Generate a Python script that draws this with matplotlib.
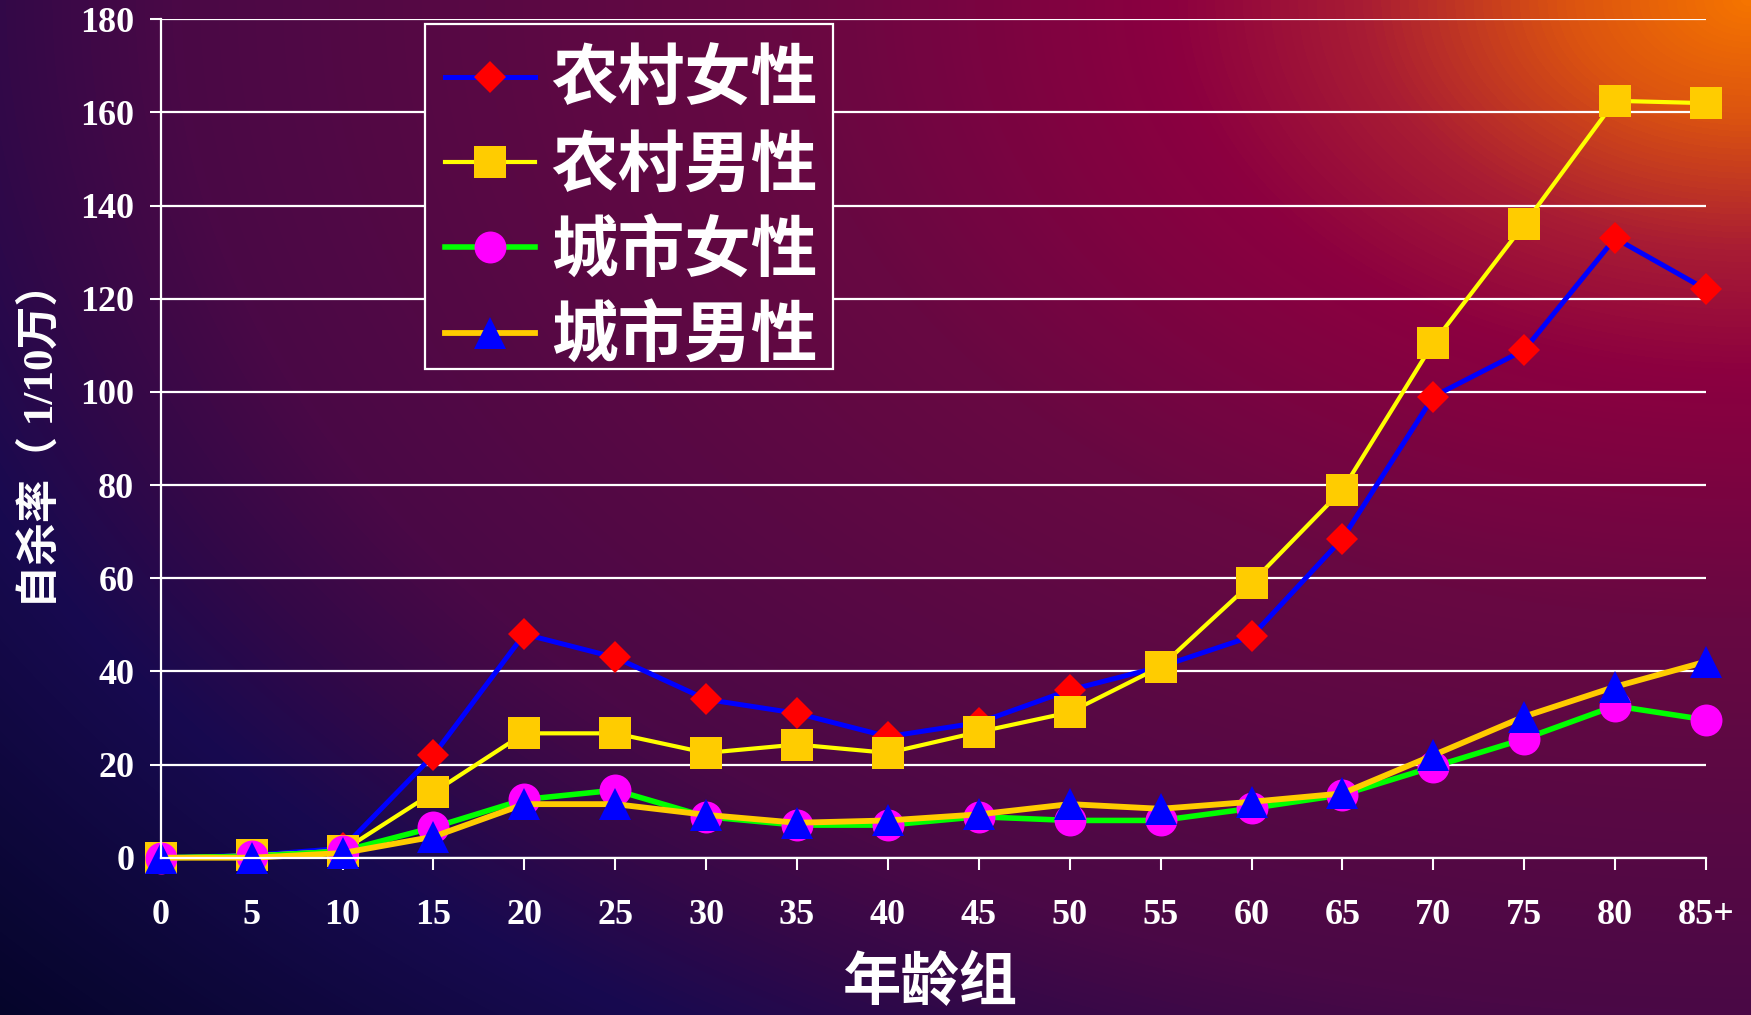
import numpy as np
import matplotlib
matplotlib.use('Agg')
import matplotlib.pyplot as plt
from matplotlib.colors import LinearSegmentedColormap
from matplotlib.font_manager import FontProperties
from matplotlib.patches import Rectangle

# data
ages = ['0', '5', '10', '15', '20', '25', '30', '35', '40', '45',
        '50', '55', '60', '65', '70', '75', '80', '85+']
rural_female = [0, 0.5, 2, 22, 48, 43, 34, 31, 26, 29, 36, 41, 47.5, 68.5, 99, 109, 133, 122]
rural_male = [0, 0.5, 1.5, 14, 26.7, 26.7, 22.5, 24.3, 22.5, 27, 31.2, 41, 59, 79, 110.5, 136, 162.5, 162]
urban_female = [0, 0.3, 1.4, 6.5, 12.5, 14.5, 8.8, 7, 7, 8.8, 8, 8, 10.6, 13.5, 19.5, 25.5, 32.6, 29.6]
urban_male = [0, 0, 1, 4.5, 11.5, 11.5, 9.2, 7.5, 8, 9.3, 11.5, 10.5, 12, 13.8, 22, 30.3, 36.7, 42.1]
labels = ['农村女性', '农村男性', '城市女性', '城市男性']

W, H, DPI = 1751, 1015, 100
fig = plt.figure(figsize=(W / DPI, H / DPI), dpi=DPI, facecolor='#300845')

# background: glow from the top-right corner
yy, xx = np.mgrid[0:H, 0:W]
u = xx / (W - 1)
v = yy / (H - 1)
d = np.sqrt((1 - u) ** 2 + (0.9 * v) ** 2)
dmax = 1.35
stops = [(0.0, '#f57400'), (0.1, '#dc5410'), (0.22, '#a81c34'), (0.33, '#8c0040'),
         (0.55, '#680842'), (0.9, '#4a0846'), (1.0, '#330848'), (1.1, '#180a50'),
         (1.35, '#05052a')]
cmap = LinearSegmentedColormap.from_list('bg', [(p / dmax, c) for p, c in stops])
bg = cmap(np.clip(d / dmax, 0, 1))[:, :, :3]
fig.figimage(bg, 0, 0, zorder=-10)

ax = fig.add_axes([160.7 / W, 1 - 857.7 / H, (1706 - 160.7) / W, (857.7 - 19.3) / H])
ax.set_facecolor('none')

x = np.arange(len(ages))
lines = []
lines += ax.plot(x, rural_female, color='#0000ff', lw=3.6, marker='D', ms=16.5,
                 mfc='#ff0000', mec='#ff0000', mew=0, clip_on=False)
lines += ax.plot(x, rural_male, color='#ffff00', lw=3.0, marker='s', ms=23.5,
                 mfc='#ffcc00', mec='#ffcc00', mew=0, clip_on=False)
lines += ax.plot(x, urban_female, color='#00ff00', lw=4.0, marker='o', ms=23,
                 mfc='#ff00ff', mec='#ff00ff', mew=0, clip_on=False)
lines += ax.plot(x, urban_male, color='#ffcc00', lw=4.2, marker='^', ms=23,
                 mfc='#0000ff', mec='#0000ff', mew=0, clip_on=False)

ax.set_xlim(0, len(ages) - 1)
ax.set_ylim(0, 180)
ax.set_xticks(x)
ax.set_xticklabels(ages)
ax.set_yticks(np.arange(0, 181, 20))

ax.set_axisbelow(True)
ax.yaxis.grid(True, color='white', lw=1.6)
for side in ['top', 'right']:
    ax.spines[side].set_visible(False)
for side in ['left', 'bottom']:
    ax.spines[side].set_color('white')
    ax.spines[side].set_linewidth(1.6)

tick_font = FontProperties(family='Liberation Serif', weight='bold', size=26)
ax.tick_params(axis='y', colors='white', length=8, width=1.5, pad=11)
ax.tick_params(axis='x', colors='white', length=8.5, width=1.5, pad=21)
for lab in ax.get_xticklabels() + ax.get_yticklabels():
    lab.set_fontproperties(tick_font)

fig.text(41.5 / W, 1 - 435 / H, '自杀率（ 1/10万）', rotation=90, ha='center', va='center',
         color='white', fontsize=31, weight='bold',
         family=['Liberation Serif', 'Noto Sans CJK SC'])
fig.text(930 / W, 1 - 983 / H, '年龄组', ha='center', va='center',
         color='white', fontsize=42, weight='bold', family=['Noto Sans CJK SC'])

# legend box drawn by hand, its contents by the legend
box = (425, 24, 833, 369)
leg = fig.legend(lines, labels, loc='upper left',
                 bbox_to_anchor=(445 / W, 1 - 47 / H), bbox_transform=fig.transFigure,
                 prop=FontProperties(family='Noto Sans CJK SC', weight='bold', size=48),
                 labelcolor='white', frameon=False, borderpad=0, borderaxespad=0,
                 handlelength=1.35, handletextpad=0.24, labelspacing=0.275)
leg.set_zorder(5)
fig.patches.append(Rectangle((box[0] / W, 1 - box[3] / H), (box[2] - box[0]) / W,
                             (box[3] - box[1]) / H, transform=fig.transFigure,
                             fill=False, edgecolor='white', lw=1.6, zorder=6))

# the legend box hides the gridlines: paint the background again under it
fig.figimage(bg[box[1]:box[3], box[0]:box[2]], box[0], H - box[3], zorder=1)

fig.savefig('out.png', dpi=DPI)
